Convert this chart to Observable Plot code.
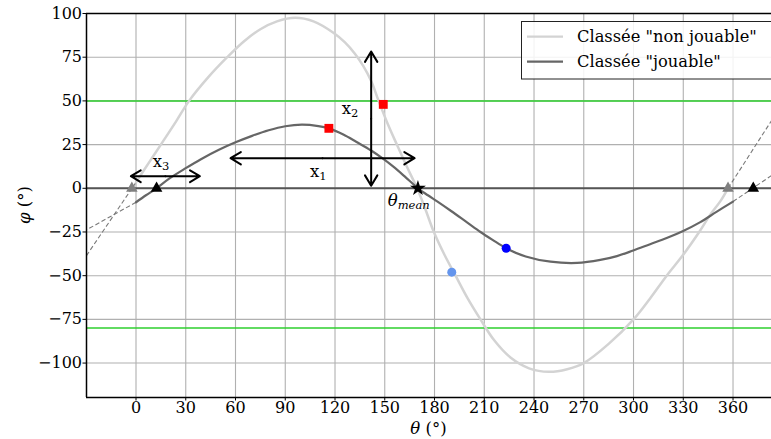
<!DOCTYPE html>
<html>
<head>
<meta charset="utf-8">
<script src="https://cdn.jsdelivr.net/npm/d3@7"></script>
<script src="https://cdn.jsdelivr.net/npm/@observablehq/plot@0.6"></script>
<style>
  html, body { margin: 0; padding: 0; background: #fff; }
  #chart { width: 771px; height: 439px; }
</style>
</head>
<body>
<div id="chart"></div>
<script>
// ---- data ----
const xTicks = [0, 30, 60, 90, 120, 150, 180, 210, 240, 270, 300, 330, 360];
const yTicks = [-100, -75, -50, -25, 0, 25, 50, 75, 100];
const xDomain = [-29.85, 383.2];
const yDomain = [-119.7, 100];

// Classée "non jouable"
const lightTheta = [0, 8, 15, 24, 32, 44, 55, 65, 75, 85, 96, 107, 119, 126, 132, 137, 142, 146.3, 151.5, 157.3, 163.5, 169.5, 174.5, 179.6, 186, 192.7, 200, 207.7, 216, 226, 237, 249, 260, 270, 285, 300, 310, 320, 329.6, 339.6, 346, 352.5, 357];
const lightPhi   = [3.4, 15, 25, 38, 50, 64, 75, 84, 91, 95.5, 97.5, 95.5, 89, 83.5, 77, 70, 61, 50, 37.5, 25, 12, 0, -12, -25, -38, -50, -63, -75, -87, -97, -103, -105, -103.5, -100, -89, -75, -63, -50, -38.5, -25, -15.5, -7.2, 0];

// Classée "jouable"
const darkTheta = [0, 6, 12.4, 20, 30, 38.9, 50, 60, 70, 80, 90, 100, 110, 116.3, 125, 133, 141.8, 148.5, 155, 162, 170, 176, 181.6, 190, 200, 207.7, 215, 223.2, 235, 250, 266, 280, 290, 299.8, 310, 320, 329.6, 340, 350, 360];
const darkPhi   = [-8, -4, 0, 5.5, 11.5, 16.5, 22, 26.3, 30, 33.2, 35.5, 36.4, 35.6, 34.3, 30.8, 26.5, 21.6, 17.2, 12.5, 6.8, 0, -4, -7.5, -13, -19.8, -25, -29.5, -34.3, -39, -42, -42.7, -41, -38.8, -35.6, -32, -28.5, -24.6, -19.5, -13.5, -7.6];

// dashed linear extensions [theta0, phi0, theta1, phi1]
const extLight = [[0, 3.4, -29.85, -38.5], [357, 0, 383.2, 38.7]];
const extDark  = [[0, -8, -29.85, -23.8], [360, -7.6, 383.2, 7.3]];

// markers
const greyTriTheta = [-2.5, 357];
const blackTriTheta = [12.4, 372.2];
const starTheta = [170];
const redTheta = [116.3, 149.1], redPhi = [34.3, 48];
const blueTheta = [223.2], bluePhi = [-34.3];
const lightBlueTheta = [190.4], lightBluePhi = [-48];
const limitPhi = [50, -80];

// double arrows [theta1, phi1, theta2, phi2]
const arrows = [[57, 17.2, 168, 17.2], [141.8, 1.5, 141.8, 78.2], [-3.1, 6.9, 38.5, 6.9]];
// labels: base, subscript, theta, phi (start, baseline)
const labels = [["x", "1", 105.2, 6], ["x", "2", 124.3, 42.2], ["x", "3", 10.4, 12]];
const meanLabel = ["θ", "mean", 152.1, -10.3];
const legendItems = [["Classée \"non jouable\"", "#d3d3d3"], ["Classée \"jouable\"", "#666666"]];

// ---- build ----
const light = lightTheta.map((t, i) => ({t, p: lightPhi[i]}));
const dark = darkTheta.map((t, i) => ({t, p: darkPhi[i]}));
const segs = (arr) => arr.map(d => ({x1: d[0], y1: d[1], x2: d[2], y2: d[3]}));
const halfArrows = arrows.flatMap(a => {
  const mx = (a[0] + a[2]) / 2, my = (a[1] + a[3]) / 2;
  return [{x1: mx, y1: my, x2: a[0], y2: a[1]}, {x1: mx, y1: my, x2: a[2], y2: a[3]}];
});

const chart = Plot.plot({
  width: 771, height: 439,
  marginLeft: 86, marginRight: 0, marginTop: 13, marginBottom: 42,
  style: {fontFamily: "DejaVu Serif", fontSize: "16px", background: "#fff", color: "#000"},
  x: {domain: xDomain, ticks: xTicks},
  y: {domain: yDomain, ticks: yTicks},
  marks: [
    Plot.gridX(xTicks, {stroke: "#b0b0b0", strokeOpacity: 1, strokeWidth: 1.1}),
    Plot.gridY(yTicks, {stroke: "#b0b0b0", strokeOpacity: 1, strokeWidth: 1.1}),
    Plot.ruleY(limitPhi, {stroke: "#2ecf2e", strokeWidth: 1.5}),
    Plot.ruleY([0], {stroke: "#555", strokeWidth: 2}),
    Plot.link(segs(extLight).concat(segs(extDark)), {x1: "x1", y1: "y1", x2: "x2", y2: "y2", stroke: "#7a7a7a", strokeWidth: 1.1, strokeDasharray: "4.5,2.5"}),
    Plot.line(light, {x: "t", y: "p", stroke: "#d3d3d3", strokeWidth: 2.5, curve: "catmull-rom"}),
    Plot.line(dark, {x: "t", y: "p", stroke: "#666666", strokeWidth: 2.2, curve: "catmull-rom"}),
    Plot.dot(greyTriTheta, {x: d => d, y: () => 0, symbol: "triangle", r: 4.3, fill: "#808080", stroke: "none"}),
    Plot.dot(blackTriTheta, {x: d => d, y: () => 0, symbol: "triangle", r: 4.3, fill: "#000", stroke: "none"}),
    Plot.dot(starTheta, {x: d => d, y: () => 0, symbol: "star", r: 5, fill: "#000", stroke: "none"}),
    Plot.dot(redTheta, {x: d => d, y: (d, i) => redPhi[i], symbol: "square", r: 5, fill: "#ff0000", stroke: "none"}),
    Plot.dot(blueTheta, {x: d => d, y: (d, i) => bluePhi[i], r: 4.5, fill: "#0000ff", stroke: "none"}),
    Plot.dot(lightBlueTheta, {x: d => d, y: (d, i) => lightBluePhi[i], r: 4.5, fill: "#6495ed", stroke: "none"}),
    Plot.arrow(halfArrows, {x1: "x1", y1: "y1", x2: "x2", y2: "y2", stroke: "#000", strokeWidth: 2, headLength: 9, headAngle: 62}),
    Plot.ruleX([xDomain[0]], {stroke: "#000", strokeWidth: 1.5}),
    Plot.ruleY([yDomain[0], yDomain[1]], {stroke: "#000", strokeWidth: 1.5}),
    Plot.axisX(xTicks, {tickSize: 3.5, tickPadding: 1, label: null, fontSize: 16}),
    Plot.axisY(yTicks, {tickSize: 3.5, tickPadding: 1, label: null, fontSize: 16})
  ]
});
document.getElementById("chart").appendChild(chart);

const sx = chart.scale("x"), sy = chart.scale("y");
const svg = d3.select(chart);
const ann = svg.append("g").attr("font-family", "DejaVu Serif").attr("text-anchor", "start");

labels.forEach(l => {
  const t = ann.append("text").attr("x", sx.apply(l[2])).attr("y", sy.apply(l[3])).attr("font-size", 16.5);
  t.append("tspan").text(l[0]);
  t.append("tspan").attr("font-size", 11.5).attr("dy", 3).text(l[1]);
});
{
  const t = ann.append("text").attr("x", sx.apply(meanLabel[2])).attr("y", sy.apply(meanLabel[3])).attr("font-size", 16.5).attr("font-style", "italic");
  t.append("tspan").text(meanLabel[0]);
  t.append("tspan").attr("font-size", 11.5).attr("dy", 3).text(meanLabel[1]);
}

// axis titles
const xc = (sx.range[0] + sx.range[1]) / 2, yc = (sy.range[0] + sy.range[1]) / 2;
{
  const t = ann.append("text").attr("x", xc).attr("y", 434).attr("text-anchor", "middle").attr("font-size", 16.5);
  t.append("tspan").attr("font-style", "italic").text("θ");
  t.append("tspan").text(" (°)");
}
{
  const t = ann.append("text").attr("transform", `translate(30,${yc}) rotate(-90)`).attr("text-anchor", "middle").attr("font-size", 16.5);
  t.append("tspan").attr("font-style", "italic").text("φ");
  t.append("tspan").text(" (°)");
}

// legend
const lg = svg.append("g").attr("font-family", "DejaVu Serif").attr("text-anchor", "start");
lg.append("rect").attr("x", 521.5).attr("y", 21.5).attr("width", 260).attr("height", 57.5)
  .attr("fill", "#fff").attr("fill-opacity", 0.85).attr("stroke", "#222").attr("stroke-width", 1);
legendItems.forEach((it, i) => {
  const y = 36.7 + i * 25;
  lg.append("line").attr("x1", 527).attr("x2", 563).attr("y1", y).attr("y2", y).attr("stroke", it[1]).attr("stroke-width", 2.2);
  lg.append("text").attr("x", 577).attr("y", y + 5.7).attr("font-size", 16.3).text(it[0]);
});
</script>
</body>
</html>
